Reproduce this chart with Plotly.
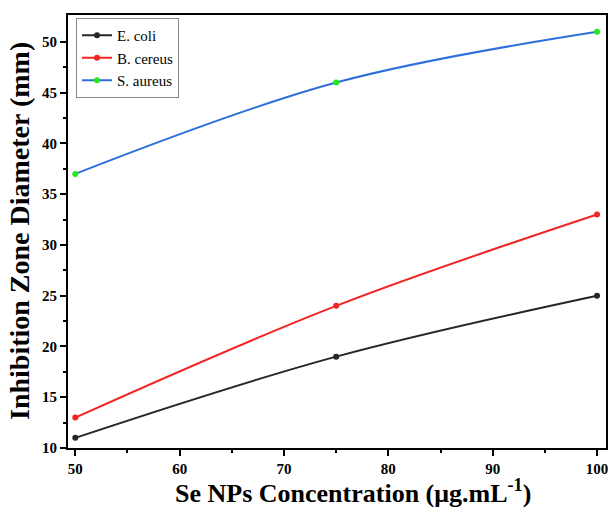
import plotly.graph_objects as go

conc = [50, 75, 100]
ecoli = [11, 19, 25]
bcereus = [13, 24, 33]
saureus = [37, 46, 51]

x_ticks = [50, 60, 70, 80, 90, 100]
x_minor = [55, 65, 75, 85, 95]
y_ticks = [10, 15, 20, 25, 30, 35, 40, 45, 50]
y_minor = [12.5, 17.5, 22.5, 27.5, 32.5, 37.5, 42.5, 47.5]

fig = go.Figure()
series = [
    ("E. coli", ecoli, "#262626", "#262626"),
    ("B. cereus", bcereus, "#f22424", "#f22424"),
    ("S. aureus", saureus, "#2f6fdc", "#22e822"),
]
for name, ys, lc, mc in series:
    fig.add_trace(go.Scatter(
        x=conc, y=ys, name=name, mode="lines+markers",
        line=dict(color=lc, width=2, shape="spline", smoothing=1),
        marker=dict(color=mc, size=6),
        cliponaxis=False,
    ))

font_fam = "Liberation Serif"
L, R, T, B = 68, 3, 15, 61
W, H = 609, 509
pw, ph = W - L - R, H - T - B

fig.update_layout(
    width=W, height=H,
    margin=dict(l=L, r=R, t=T, b=B, autoexpand=False),
    paper_bgcolor="white", plot_bgcolor="white",
    font=dict(family=font_fam, color="black"),
    showlegend=True,
    legend=dict(
        x=8 / pw, y=1 - 3 / ph, xanchor="left", yanchor="top",
        bgcolor="white", bordercolor="#888888", borderwidth=1,
        font=dict(family=font_fam, size=15, color="black"),
        tracegroupgap=0, itemwidth=30,
    ),
    xaxis=dict(
        range=[49.3, 100.86], tickvals=x_ticks,
        ticks="outside", ticklen=6, tickwidth=1.5, tickcolor="black",
        minor=dict(tickvals=x_minor, ticks="outside", ticklen=3, tickcolor="black"),
        showline=True, linecolor="black", linewidth=2, mirror=True,
        showgrid=False, zeroline=False, automargin=False,
        tickfont=dict(family=font_fam, size=15, color="black", weight="bold"),
    ),
    yaxis=dict(
        range=[10, 52.65], tickvals=y_ticks,
        ticks="outside", ticklen=6, tickwidth=1.5, tickcolor="black",
        minor=dict(tickvals=y_minor, ticks="outside", ticklen=3, tickcolor="black"),
        showline=True, linecolor="black", linewidth=2, mirror=True,
        showgrid=False, zeroline=False, automargin=False,
        tickfont=dict(family=font_fam, size=15, color="black", weight="bold"),
    ),
    annotations=[
        dict(text="Se NPs Concentration (μg.mL<sup>-1</sup>)", xref="paper", yref="paper",
             x=(353 - L) / pw, y=-(492 - (H - B)) / ph, xanchor="center", yanchor="middle",
             showarrow=False, font=dict(family=font_fam, size=26, color="black", weight="bold")),
        dict(text="Inhibition Zone Diameter (mm)", xref="paper", yref="paper",
             x=(20 - L) / pw, y=((H - B) - 231) / ph, xanchor="center", yanchor="middle",
             textangle=-90, showarrow=False,
             font=dict(family=font_fam, size=28, color="black", weight="bold")),
    ],
)
fig.write_html("out.html", config={"displayModeBar": False},
               post_script="document.body.style.margin='0';document.body.style.overflow='hidden';")
